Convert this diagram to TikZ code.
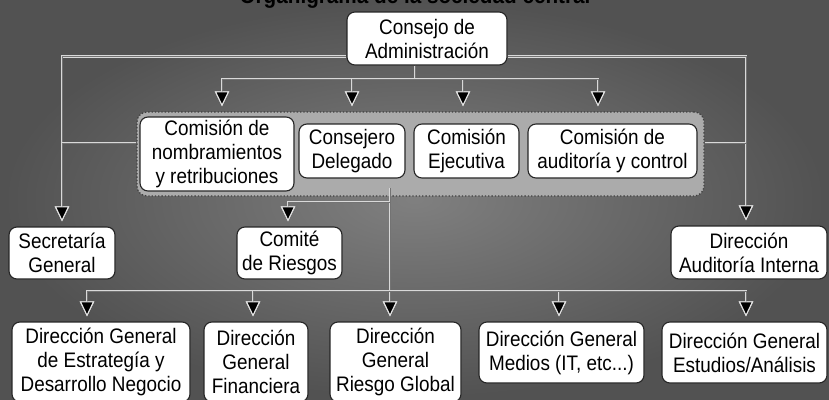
\documentclass[tikz,border=0pt]{standalone}
\usepackage{fontspec}
\setmainfont[FakeStretch=0.9]{Liberation Sans}
\usetikzlibrary{arrows.meta}

\tikzset{
  cargo/.style={draw=black!85, line width=1.1pt, fill=white, rounded corners=8pt,
    align=center, inner sep=2pt, font=\fontsize{21}{24}\selectfont},
  comisiones/.style={draw=black!75, dotted, line width=1.3pt, fill=black!33, rounded corners=10pt},
  enlace/.style={draw=black!55, line width=1pt, preaction={draw=white!85!black, line width=2.8pt}},
  flecha/.style={-{Triangle[width=14pt,length=15pt,fill=black,color=white!90!black]}, shorten >=5pt},
}

\begin{document}
\begin{tikzpicture}[x=1pt,y=-1pt]
% fondo
\shade[inner color=black!50, outer color=black!68] (0,0) rectangle (829,399);
\useasboundingbox (0,0) rectangle (829,399);
% titulo
\node[anchor=base, font=\fontsize{23}{26}\selectfont\bfseries] (titulo) at (415,3.5) {Organigrama de la sociedad central};

% consejo
\node[cargo, minimum width=160pt, minimum height=53pt] (consejo) at (427,38.5) {Consejo de\\Administración};

% comisiones
\node[comisiones, minimum width=567pt, minimum height=84pt] (panel) at (420.5,154) {};
\node[cargo, minimum width=154pt, minimum height=74pt] (nombramientos) at (217,154) {Comisión de\\nombramientos\\y retribuciones};
\node[cargo, minimum width=106pt, minimum height=54pt] (delegado) at (352,151) {Consejero\\Delegado};
\node[cargo, minimum width=105pt, minimum height=54pt] (ejecutiva) at (466.5,151) {Comisión\\Ejecutiva};
\node[cargo, minimum width=169pt, minimum height=54pt] (auditoria) at (612.5,151) {Comisión de\\auditoría y control};

% nivel medio
\node[cargo, minimum width=106pt, minimum height=52pt] (secretaria) at (62,253) {Secretaría\\General};
\node[cargo, minimum width=105pt, minimum height=52pt] (comite) at (289.5,253) {Comité\\de Riesgos};
\node[cargo, minimum width=156pt, minimum height=53pt] (interna) at (749,252.5) {Dirección\\Auditoría Interna};

% direcciones generales
\node[cargo, minimum width=178pt, minimum height=80pt] (estrategia) at (101,362) {Dirección General\\de Estrategía y\\Desarrollo Negocio};
\node[cargo, minimum width=104pt, minimum height=80pt] (financiera) at (256,362) {Dirección\\General\\Financiera};
\node[cargo, minimum width=131pt, minimum height=80pt] (riesgo) at (395.5,362) {Dirección\\General\\Riesgo Global};
\node[cargo, minimum width=165pt, minimum height=61pt] (medios) at (561.5,352.5) {Dirección General\\Medios (IT, etc...)};
\node[cargo, minimum width=165pt, minimum height=61pt] (estudios) at (744.5,352.5) {Dirección General\\Estudios/Análisis};

% lineas laterales
\coordinate (derecha) at ([xshift=-3pt]interna.north);
\draw[enlace, flecha] ([yshift=-18pt]consejo.west) -| (secretaria.north);
\draw[enlace, flecha] ([yshift=-18pt]consejo.east) -| (derecha);
\draw[enlace] ([yshift=11pt]panel.west) -- ([yshift=11pt]panel.west -| secretaria.north);
\draw[enlace] ([yshift=11pt]panel.east) -- ([yshift=11pt]panel.east -| derecha);

% bus superior
\coordinate (bus1) at (415,79);
\draw[enlace] ([xshift=-12pt]consejo.south) -- (bus1);
\foreach \dest/\dx in {nombramientos/5, delegado/0, ejecutiva/-3.5, auditoria/-14.5}
  \draw[enlace, flecha] (bus1) -| ([xshift=\dx pt]\dest.north |- panel.north);

% eje central
\coordinate (eje) at (390,188);
\coordinate (rama) at (390,202);
\coordinate (bus2) at (390,291);
\draw[enlace, flecha] (eje) -- (eje |- riesgo.north);
\draw[enlace, flecha] (rama) -| ([xshift=-1.5pt]comite.north);
\foreach \dest/\dx in {estrategia/-14, financiera/-3, medios/-2.5, estudios/1.5}
  \draw[enlace, flecha] (bus2) -| ([xshift=\dx pt]\dest.north);
\end{tikzpicture}
\end{document}
